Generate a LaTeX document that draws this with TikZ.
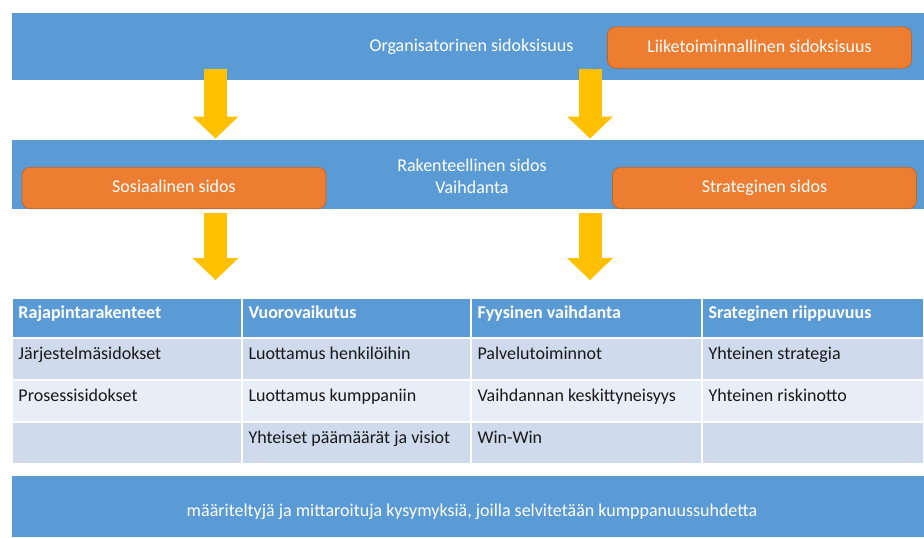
\documentclass[tikz,border=0pt]{standalone}
\usepackage{fontspec}
\setmainfont{Carlito}
\usetikzlibrary{arrows.meta}

\definecolor{bandblue}{RGB}{91,155,213}
\definecolor{tagorange}{RGB}{237,125,49}
\definecolor{arrowgold}{RGB}{255,192,0}
\definecolor{rowdark}{RGB}{207,218,236}
\definecolor{rowlight}{RGB}{232,238,247}

\tikzset{every picture/.style={line width=0.75pt}}
\tikzset{
  band/.style={fill=bandblue, minimum width=684pt, inner sep=0pt},
  bandtxt/.style={text=white, font=\fontsize{13.5}{16.5}\selectfont, align=center, inner sep=0.75pt},
  tag/.style={fill=tagorange, draw=tagorange!80!black, line width=0.5pt, rounded corners=6pt,
    minimum width=228pt, minimum height=31pt, text height=10pt, text depth=3pt,
    text=white, font=\fontsize{13.5}{16.5}\selectfont},
  blockarrow/.style={draw=arrowgold, line width=17.25pt,
    -{Triangle[width=34.5pt,length=16.5pt,line width=0pt 0]}},
  cell/.style={draw=white, line width=1.5pt, inner sep=0pt},
  headcell/.style={cell, fill=bandblue, minimum height=30pt},
  darkcell/.style={cell, fill=rowdark, minimum height=31.5pt},
  lightcell/.style={cell, fill=rowlight, minimum height=31.5pt},
  headtxt/.style={anchor=west, inner sep=0.75pt, text height=10pt, text depth=3pt,
    text=white, font=\bfseries\fontsize{13.5}{16}\selectfont},
  celltxt/.style={anchor=west, inner sep=0.75pt, text height=10pt, text depth=3pt,
    text=black!90, font=\fontsize{13.5}{16}\selectfont}
}

\begin{document}
\begin{tikzpicture}[x=0.75pt,y=-0.75pt]
\useasboundingbox (0,0) rectangle (924,537);

%Bands
\node[band, minimum height=50.25pt] (orgband) at (468,46.5) {};
\node[band, minimum height=51.75pt] (rakband) at (468,174.5) {};
\node[band, minimum height=45.75pt] (kysband) at (468,506.5) {};

% Text Node
\node[bandtxt] (orgtxt) at (471.5,47) {Organisatorinen sidoksisuus};
% Text Node
\node[bandtxt] (raktxt) at (472,176) {Rakenteellinen sidos\\Vaihdanta};
% Text Node
\node[bandtxt] (kystxt) at (472,512) {määriteltyjä ja mittaroituja kysymyksiä, joilla selvitetään kumppanuussuhdetta};

%Orange boxes
\node[tag] (liike) at (759.5,47.5) {Liiketoiminnallinen sidoksisuus};
\node[tag] (sosiaal) at (174,188) {Sosiaalinen sidos};
\node[tag] (strateg) at (764.5,188) {Strateginen sidos};

%Table cells
\node[headcell, minimum width=172.5pt] (c01) at (127,318) {};
\node[headcell, minimum width=171.75pt] (c02) at (356.5,318) {};
\node[headcell, minimum width=173.25pt] (c03) at (586.5,318) {};
\node[headcell, minimum width=166.5pt] (c04) at (813,318) {};
\node[darkcell, minimum width=172.5pt] (c11) at (127,359) {};
\node[darkcell, minimum width=171.75pt] (c12) at (356.5,359) {};
\node[darkcell, minimum width=173.25pt] (c13) at (586.5,359) {};
\node[darkcell, minimum width=166.5pt] (c14) at (813,359) {};
\node[lightcell, minimum width=172.5pt] (c21) at (127,401) {};
\node[lightcell, minimum width=171.75pt] (c22) at (356.5,401) {};
\node[lightcell, minimum width=173.25pt] (c23) at (586.5,401) {};
\node[lightcell, minimum width=166.5pt] (c24) at (813,401) {};
\node[darkcell, minimum width=172.5pt] (c31) at (127,443) {};
\node[darkcell, minimum width=171.75pt] (c32) at (356.5,443) {};
\node[darkcell, minimum width=173.25pt] (c33) at (586.5,443) {};
\node[darkcell, minimum width=166.5pt] (c34) at (813,443) {};

% Text Node
\node[headtxt] (t01) at ([xshift=4.5pt,yshift=3.5pt]c01.west) {Rajapintarakenteet};
\node[headtxt] (t02) at ([xshift=4.5pt,yshift=3.5pt]c02.west) {Vuorovaikutus};
\node[headtxt] (t03) at ([xshift=4.5pt,yshift=3.5pt]c03.west) {Fyysinen vaihdanta};
\node[headtxt] (t04) at ([xshift=4.5pt,yshift=3.5pt]c04.west) {Srateginen riippuvuus};
% Text Node
\node[celltxt] (t11) at ([xshift=4.5pt,yshift=3.5pt]c11.west) {Järjestelmäsidokset};
\node[celltxt] (t12) at ([xshift=4.5pt,yshift=3.5pt]c12.west) {Luottamus henkilöihin};
\node[celltxt] (t13) at ([xshift=4.5pt,yshift=3.5pt]c13.west) {Palvelutoiminnot};
\node[celltxt] (t14) at ([xshift=4.5pt,yshift=3.5pt]c14.west) {Yhteinen strategia};
% Text Node
\node[celltxt] (t21) at ([xshift=4.5pt,yshift=3.5pt]c21.west) {Prosessisidokset};
\node[celltxt] (t22) at ([xshift=4.5pt,yshift=3.5pt]c22.west) {Luottamus kumppaniin};
\node[celltxt] (t23) at ([xshift=4.5pt,yshift=3.5pt]c23.west) {Vaihdannan keskittyneisyys};
\node[celltxt] (t24) at ([xshift=4.5pt,yshift=3.5pt]c24.west) {Yhteinen riskinotto};
% Text Node
\node[celltxt] (t32) at ([xshift=4.5pt,yshift=3.5pt]c32.west) {Yhteiset päämäärät ja visiot};
\node[celltxt] (t33) at ([xshift=4.5pt,yshift=3.5pt]c33.west) {Win-Win};

%Arrows
\coordinate (lane1) at (215.5,0);
\coordinate (lane2) at (590,0);
\draw[blockarrow, shorten <=-9pt, shorten >=0.75pt] (orgband.south -| lane1) -- (rakband.north -| lane1);
\draw[blockarrow, shorten <=-9pt, shorten >=0.75pt] (orgband.south -| lane2) -- (rakband.north -| lane2);
\draw[blockarrow, shorten <=2.25pt, shorten >=12.75pt] (rakband.south -| lane1) -- (c01.north -| lane1);
\draw[blockarrow, shorten <=2.25pt, shorten >=12.75pt] (rakband.south -| lane2) -- (c03.north -| lane2);

\end{tikzpicture}
\end{document}
